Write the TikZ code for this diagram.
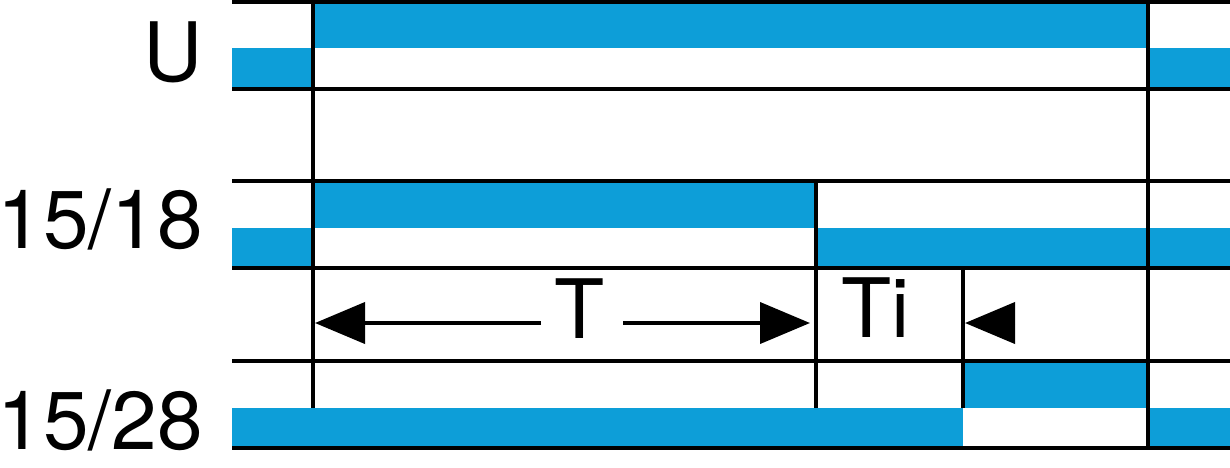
\documentclass[tikz,border=0pt]{standalone}
\usepackage{fontspec}
\setmainfont{TeX Gyre Heros}
\usetikzlibrary{arrows.meta}
\definecolor{sigblue}{RGB}{13,158,216}
\begin{document}
\begin{tikzpicture}[x=1pt,y=-1pt,
  sig/.style={fill=sigblue,draw=none},
  grid/.style={line width=4pt,black},
  lab/.style={font=\fontsize{82}{90}\selectfont,anchor=base east,inner sep=0pt},
  tlab/.style={font=\fontsize{82}{90}\selectfont,anchor=base,inner sep=0pt},
  dim/.style={line width=4pt,-{Triangle[length=50pt,width=41pt]}}]
\useasboundingbox (0,0) rectangle (1230,467);
% blue signal bars
\fill[sigblue] (313,2) rectangle (1148,48);
\fill[sigblue] (232,48) rectangle (313,89);
\fill[sigblue] (1148,48) rectangle (1230,89);
\fill[sigblue] (313,181) rectangle (816,228);
\fill[sigblue] (232,228) rectangle (313,268);
\fill[sigblue] (816,228) rectangle (1230,268);
\fill[sigblue] (963,361) rectangle (1148,408);
\fill[sigblue] (232,408) rectangle (963,448);
\fill[sigblue] (1148,408) rectangle (1230,448);
% horizontal lines
\foreach \yy in {2,89,181,268,361,448}
  \draw[grid] (232,\yy) -- (1230,\yy);
% vertical lines
\draw[grid] (313,0) -- (313,408);
\draw[grid] (1148,0) -- (1148,450);
\draw[grid] (816,181) -- (816,408);
\draw[grid] (963,268) -- (963,408);
% labels
\node[lab] (u) at (203,81) {U};
\node[lab] (s18) at (203,248) {15/18};
\node[lab] (s28) at (203,449) {15/28};
\node[tlab] (t) at (580,338) {T};
\node[tlab] (ti) at (876,337) {Ti};
% dimension arrows
\coordinate (tl) at (541,323);
\coordinate (tlTip) at (315,323);
\coordinate (tr) at (623,323);
\coordinate (trTip) at (810,323);
\coordinate (tiS) at (1015,323);
\coordinate (tiTip) at (965,323);
\draw[dim] (tl) -- (tlTip);
\draw[dim] (tr) -- (trTip);
\draw[dim] (tiS) -- (tiTip);
\end{tikzpicture}
\end{document}
